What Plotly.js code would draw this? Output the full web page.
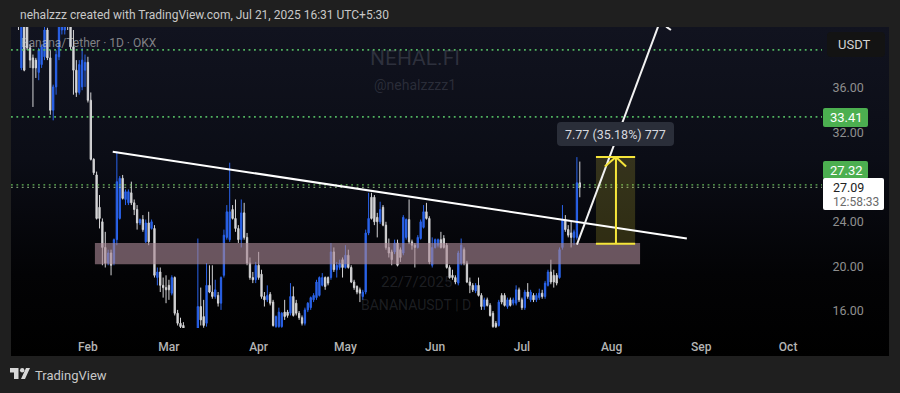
<!DOCTYPE html>
<html><head><meta charset="utf-8">
<script src="https://cdn.plot.ly/plotly-3.0.1.min.js"></script>
<style>
html,body{margin:0;padding:0;background:#1f1f1f;width:900px;height:393px;overflow:hidden}
#panel{position:absolute;left:11px;top:27px;width:878px;height:329px;background:linear-gradient(#11131f 0%,#0b0d16 40%,#030305 75%,#000 100%)}
#chart{position:absolute;left:0;top:0;width:900px;height:393px}
</style></head><body>
<div id="panel"></div><div id="chart"></div>
<script>
const firstDay = '2025-01-08';
const opens = [
42.1,37.8,42.1,43.0,39.6,38.7,38.5,37.4,38.1,38.8,41.2,38.7,34.0,36.1,38.8,41.2,41.2,42.6,43.0,39.7,37.6,35.6,36.1,37.6,
38.3,34.9,29.6,28.2,25.3,24.0,21.7,20.3,21.2,20.3,22.4,24.3,27.9,26.0,25.7,26.6,25.7,25.1,23.9,24.2,22.2,23.9,23.4,23.4,19.0,19.5,18.3,18.1,
18.3,17.6,19.0,15.8,14.9,14.7,13.0,13.8,13.4,13.0,13.0,16.4,15.5,14.9,18.3,17.7,17.3,17.4,16.7,19.2,22.6,22.4,25.1,24.3,23.4,22.4,24.8,22.6,20.3,19.0,18.8,
20.1,19.3,17.3,17.0,17.5,16.8,14.6,14.6,14.6,15.9,15.9,15.8,17.3,16.7,15.8,15.4,14.9,16.1,16.3,17.0,17.2,17.4,18.3,19.0,19.0,19.0,21.3,19.7,19.9,20.6,
19.9,21.0,19.9,18.6,18.2,17.9,17.3,17.7,23.0,26.2,26.2,24.4,24.0,25.3,23.7,21.7,21.3,21.3,22.1,21.5,21.2,22.6,24.2,22.2,21.9,21.7,22.5,23.5,24.9,24.3,20.1,
21.7,21.9,22.4,22.5,21.9,19.9,19.2,19.0,18.5,20.3,21.5,20.3,18.6,18.3,17.8,18.3,17.4,16.4,17.0,16.5,15.8,14.9,14.7,17.4,17.4,16.4,17.0,16.7,16.7,17.9,
17.0,16.3,17.7,17.0,17.4,17.0,17.2,17.6,17.3,18.3,19.5,19.2,19.2,19.0,21.7,24.2,23.3,23.0,22.6,22.6,27.5];
const highs = [
42.6,42.6,42.6,43.2,39.9,39.0,38.7,39.6,39.9,41.7,41.4,39.4,36.3,39.4,42.6,43.4,43.2,43.0,43.2,41.2,38.5,38.5,39.6,39.0,
38.8,35.6,29.7,28.5,26.4,24.3,23.1,21.5,21.5,22.5,30.3,28.1,28.2,26.9,26.9,27.6,26.0,25.5,24.3,24.6,24.2,24.9,24.2,23.7,19.9,19.9,19.0,19.2,
18.8,19.2,19.1,16.1,15.4,15.0,14.0,14.0,13.6,13.3,22.5,18.1,17.0,20.3,20.1,20.1,18.8,17.7,19.1,23.3,25.5,29.3,25.5,26.0,23.7,26.0,25.7,23.0,20.8,19.5,20.4,
21.3,19.7,17.7,18.3,17.7,17.0,15.6,16.3,15.9,17.0,16.1,18.5,18.2,17.0,16.0,15.6,16.3,16.8,17.3,17.6,18.8,19.1,19.4,19.1,19.1,22.1,21.7,20.4,20.6,20.8,
21.9,21.5,20.1,18.8,18.3,18.1,17.9,23.3,26.6,26.6,26.4,24.8,25.8,25.5,24.0,22.5,21.5,22.4,22.4,21.7,24.6,24.3,26.0,22.4,22.1,22.8,24.2,25.5,25.7,24.5,22.6,
22.5,22.5,23.1,22.8,22.1,20.1,19.7,19.2,21.4,22.5,21.7,20.5,19.0,18.5,18.5,19.0,17.6,17.2,17.2,16.7,16.0,15.1,17.0,17.6,17.6,17.2,17.2,17.2,18.3,18.1,
17.2,17.9,18.5,17.9,17.6,17.6,18.0,17.9,18.7,19.7,20.6,19.7,19.4,21.7,25.5,24.6,23.7,24.0,23.3,29.8,29.4];
const lows = [
41.2,37.6,37.5,39.4,37.8,34.3,36.9,36.7,37.8,38.5,38.5,33.6,33.1,35.4,38.5,40.8,40.8,41.2,39.4,35.4,35.2,35.4,35.8,36.1,
34.7,29.5,28.2,24.2,23.4,20.1,19.9,20.1,19.2,20.1,21.9,24.2,26.0,25.5,25.5,25.5,24.6,23.3,23.7,23.1,22.1,21.9,23.3,19.0,18.3,17.7,17.2,16.7,
17.0,17.4,15.6,14.7,14.3,13.8,12.7,12.8,12.3,12.2,12.5,14.7,14.5,14.6,17.6,17.1,17.1,16.4,16.1,19.0,22.4,22.2,24.2,23.1,22.1,21.7,22.4,20.1,18.8,18.5,18.5,
18.8,17.1,16.4,16.8,16.5,14.6,14.5,14.5,14.5,15.2,15.4,15.6,15.5,15.6,15.2,14.7,14.7,15.9,16.1,16.8,17.0,17.3,18.2,17.9,18.3,18.8,19.5,19.0,19.7,19.0,
19.8,19.8,18.5,17.9,17.5,16.8,17.0,17.5,22.8,24.2,23.7,22.6,23.8,23.6,21.5,20.8,20.1,21.1,20.0,20.4,21.0,22.4,22.0,21.5,19.9,21.6,22.4,23.4,24.2,20.2,19.9,
21.6,21.7,21.6,21.6,19.8,18.9,18.8,18.4,18.3,20.1,20.1,18.5,17.6,17.7,17.6,17.3,16.1,16.1,16.4,15.5,14.5,14.4,14.6,16.6,16.4,16.2,16.4,16.5,16.5,16.8,
16.1,16.1,17.1,16.8,16.8,16.8,17.0,17.1,17.1,18.2,18.4,18.1,18.3,18.9,21.5,23.1,22.6,21.7,21.9,22.4,26.2];
const closes = [
41.7,42.1,37.6,39.6,38.5,37.8,37.8,39.4,39.7,41.2,38.7,34.0,36.1,39.0,41.7,43.0,42.6,41.7,39.7,37.6,35.6,38.1,38.5,38.3,
34.9,29.6,28.4,24.3,24.3,21.7,20.3,21.2,20.1,22.4,27.6,27.9,26.1,26.7,26.7,25.7,25.1,23.9,24.2,23.3,23.9,22.2,24.0,19.2,19.5,18.3,18.1,17.9,
17.9,19.0,15.8,14.9,14.6,13.9,13.8,13.0,12.5,12.5,16.4,15.2,14.7,18.3,17.7,17.3,17.9,16.7,19.0,22.8,24.9,24.9,24.3,23.4,22.4,24.8,22.6,20.3,19.0,18.8,20.1,
19.0,17.3,17.0,17.4,16.7,14.7,15.5,15.9,15.8,15.5,15.6,17.3,15.6,15.8,15.4,14.9,16.1,16.7,17.2,17.4,18.6,19.0,19.0,18.2,18.5,21.3,19.7,20.1,20.3,19.9,
21.0,19.9,18.6,18.1,17.7,17.6,17.7,23.0,24.3,24.3,24.0,24.0,25.1,23.7,21.7,21.2,20.6,22.1,20.1,20.8,24.4,24.2,22.2,21.9,21.7,22.6,24.0,24.9,24.3,20.4,21.7,
22.4,22.4,21.7,21.7,19.9,19.0,19.0,18.6,21.2,21.9,20.3,18.6,18.3,17.9,18.3,17.4,16.4,17.0,16.5,15.6,14.6,14.6,16.8,16.8,16.5,17.0,16.5,17.0,17.9,17.0,
16.3,17.7,17.3,17.7,17.0,17.4,17.6,17.3,18.5,19.5,18.6,18.6,18.5,21.5,24.2,23.3,22.8,22.6,23.1,27.5,27.09];

const monthTicks = ['2025-02-01','2025-03-01','2025-04-01','2025-05-01','2025-06-01','2025-07-01','2025-08-01','2025-09-01','2025-10-01'];
const monthLabels = ['Feb','Mar','Apr','May','Jun','Jul','Aug','Sep','Oct'];
const priceTicks = [16,20,24,32,36];
const priceLabels = ['16.00','20.00','24.00','32.00','36.00'];
const levels = {upper:39.41, mid:33.41, lower:27.32, last:27.09};
const trendX = ['2025-02-09 14:00','2025-08-27 00:00'], trendY = [30.28,22.5];
const riseX = ['2025-07-20 00:00','2025-08-17 22:00'], riseY = [21.95,42.1];
const tipX = ['2025-08-19 20:00','2025-08-21 12:00'], tipY = [41.5,41.2];
const zoneX = ['2025-02-03 10:00','2025-08-10 20:00'], zoneY = [20.2,22.1];
const boxX = ['2025-07-26 14:00','2025-08-09 03:00'], boxY = [22.04,29.81];
const arrowX = '2025-08-02 12:00', arrowWing = ['2025-07-29 16:00','2025-08-06 00:00'], arrowWingY = 28.95;

const dates = opens.map((_, i) => { const d = new Date(firstDay + 'T00:00:00Z'); d.setUTCDate(d.getUTCDate() + i); return d.toISOString().slice(0,10); });

const L=11,R=822,T=27,B=328;
const X = p => (p-L)/(R-L), Y = p => (B-p)/(B-T);
function round(x0,y0,x1,y1,r,fill){
  const P=(a,b)=>X(a)+','+Y(b);
  return {type:'path',xref:'paper',yref:'paper',layer:'above',fillcolor:fill,line:{width:0},
    path:`M${P(x0+r,y0)}L${P(x1-r,y0)}Q${P(x1,y0)} ${P(x1,y0+r)}L${P(x1,y1-r)}Q${P(x1,y1)} ${P(x1-r,y1)}L${P(x0+r,y1)}Q${P(x0,y1)} ${P(x0,y1-r)}L${P(x0,y0+r)}Q${P(x0,y0)} ${P(x0+r,y0)}Z`};
}
const hline=(v,c,w)=>({type:'line',xref:'paper',x0:0,x1:1,y0:v,y1:v,layer:'above',line:{color:c,width:w,dash:'1.8px,3.6px'}});
const seg=(x0,y0,x1,y1,c,w)=>({type:'line',x0,x1,y0,y1,layer:'above',line:{color:c,width:w}});
const yel='#f5e53a';
const shapes=[
  {type:'rect',x0:zoneX[0],x1:zoneX[1],y0:zoneY[0],y1:zoneY[1],layer:'above',fillcolor:'rgba(170,135,148,0.62)',line:{width:0}},
  hline(levels.upper,'rgba(85,190,100,0.95)',1.7),
  hline(levels.mid,'rgba(85,190,100,0.95)',1.7),
  hline(levels.lower,'rgba(110,200,95,0.9)',1.3),
  hline(levels.last,'rgba(170,215,150,0.7)',1.1),
  {type:'rect',x0:boxX[0],x1:boxX[1],y0:boxY[0],y1:boxY[1],layer:'above',fillcolor:'rgba(245,230,60,0.18)',line:{width:0}},
  seg(trendX[0],trendY[0],trendX[1],trendY[1],'#ffffff',2),
  seg(riseX[0],riseY[0],riseX[1],riseY[1],'#f2f2f2',2),
  seg(tipX[0],tipY[0],tipX[1],tipY[1],'#f2f2f2',2),
  seg(boxX[0],boxY[0],boxX[1],boxY[0],yel,2),
  seg(boxX[0],boxY[1],boxX[1],boxY[1],yel,2),
  seg(arrowX,boxY[0],arrowX,boxY[1],yel,2),
  seg(arrowWing[0],arrowWingY,arrowX,boxY[1],yel,2),
  seg(arrowWing[1],arrowWingY,arrowX,boxY[1],yel,2),
  round(557,122,674,146,4,'#2a2e39'),
  round(827,32,885,57,4,'#131313'),
  round(823,108,868,127,2,'#4caf50'),
  round(823,161,868,179,2,'#4caf50'),
  round(823,178,884,210,2,'#ffffff'),
  {type:'path',xref:'paper',yref:'paper',fillcolor:'#d8d8d8',line:{width:0},
   path:`M${X(10)},${Y(368)}L${X(18.5)},${Y(368)}L${X(18.5)},${Y(379)}L${X(14)},${Y(379)}L${X(14)},${Y(372.5)}L${X(10)},${Y(372.5)}Z M${X(26)},${Y(368)}L${X(30)},${Y(368)}L${X(25)},${Y(379)}L${X(21)},${Y(379)}Z`},
  {type:'circle',xref:'paper',yref:'paper',x0:X(20),x1:X(24.4),y0:Y(372.4),y1:Y(368),fillcolor:'#d8d8d8',line:{width:0}}
];
const note=(text,px,py,size,color,anchor,extra)=>Object.assign({xref:'paper',yref:'paper',x:X(px),y:Y(py),xanchor:anchor||'left',yanchor:'middle',text,showarrow:false,font:{family:'Roboto',size,color}},extra||{});
const annotations=[
  note('Banana/Tether · 1D · OKX',19,43,12,'rgba(205,205,205,0.6)'),
  note('NEHAL.FI',415,58,21,'rgba(125,130,145,0.28)','center'),
  note('@nehalzzzz1',415,85,14,'rgba(125,130,145,0.26)','center'),
  note('22/7/2025',416,282,15,'rgba(125,130,145,0.22)','center'),
  note('BANANAUSDT | D',416,305,14,'rgba(125,130,145,0.22)','center'),
  note('7.77 (35.18%) 777',615,134,12.5,'#d6d8de','center'),
  note('USDT',836,44.5,13,'#d4d4d4'),
  note('33.41',846,117.5,13,'#ffffff','center'),
  note('27.32',846,170,13,'#ffffff','center'),
  note('27.09',831,187.5,12.5,'#222222'),
  note('12:58:33',831,201.5,12,'#6a6a6a'),
  note('TradingView',33,375,13,'#c8c8c8')
];
const trace={type:'candlestick',x:dates,open:opens,high:highs,low:lows,close:closes,whiskerwidth:0,hoverinfo:'skip',
  increasing:{line:{color:'#2a63ea',width:1},fillcolor:'#2a63ea'},
  decreasing:{line:{color:'#d4d4d6',width:1},fillcolor:'#d4d4d6'}};
const layout={width:900,height:393,autosize:false,paper_bgcolor:'rgba(0,0,0,0)',plot_bgcolor:'rgba(0,0,0,0)',showlegend:false,boxgap:0.35,
  margin:{l:L,r:900-R,t:T,b:393-B,pad:0},
  title:{text:'nehalzzz created with TradingView.com, Jul 21, 2025 16:31 UTC+5:30',x:10/900,xanchor:'left',xref:'paper',y:1-15/393,yanchor:'middle',font:{family:'Roboto',size:12,color:'#c8c8c8'}},
  xaxis:{type:'date',range:['2025-01-05 10:00','2025-10-12 17:00'],tickmode:'array',tickvals:monthTicks,ticktext:monthLabels,showgrid:false,zeroline:false,showline:false,
    ticks:'outside',ticklen:8,tickcolor:'rgba(0,0,0,0)',tickfont:{family:'Roboto',size:12,color:'#b4b4b4',weight:500},rangeslider:{visible:false}},
  yaxis:{side:'right',range:[14.475,41.47],tickmode:'array',tickvals:priceTicks,ticktext:priceLabels,showgrid:false,zeroline:false,showline:false,
    ticks:'outside',ticklen:7,tickcolor:'rgba(0,0,0,0)',tickfont:{family:'Roboto',size:12.5,color:'#8f8f8f'}},
  shapes,annotations};
Plotly.newPlot('chart',[trace],layout,{staticPlot:true,displayModeBar:false});
</script></body></html>
